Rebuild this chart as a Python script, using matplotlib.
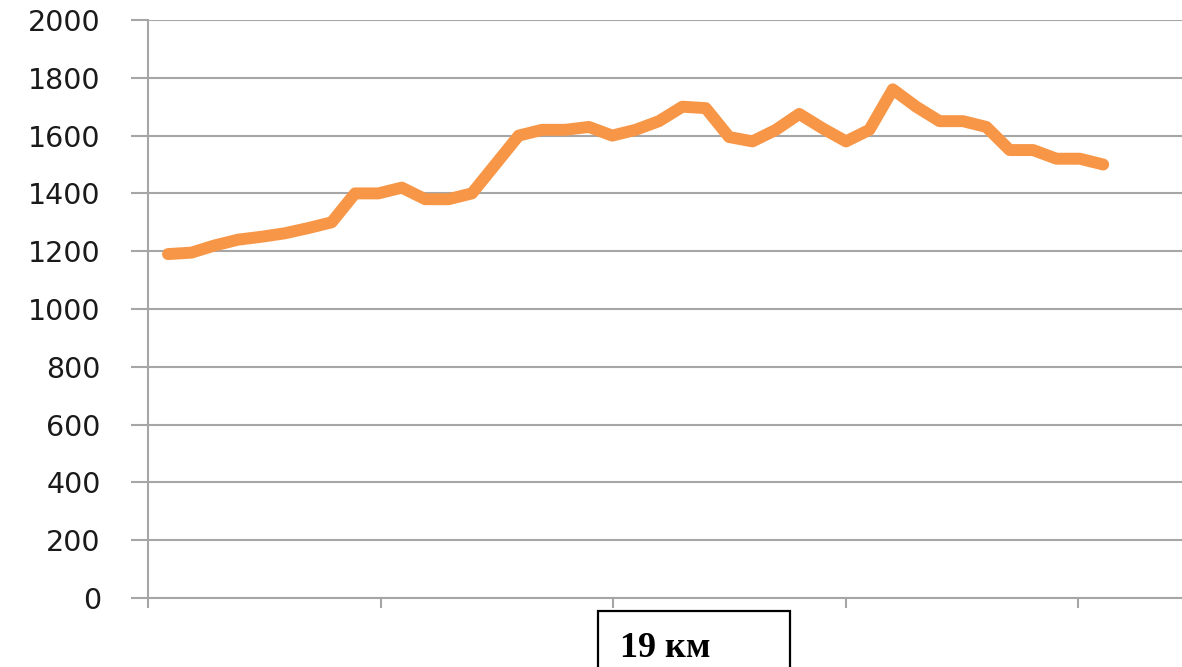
import matplotlib
matplotlib.use("Agg")
import matplotlib.pyplot as plt
from matplotlib.patches import Rectangle

# Data (elevation profile, 41 samples)
values = [1190, 1195, 1220, 1240, 1250, 1262, 1280, 1300, 1400, 1400,
          1420, 1380, 1380, 1400, 1500, 1600, 1620, 1620, 1630, 1600,
          1620, 1650, 1700, 1695, 1595, 1580, 1620, 1675, 1625, 1580,
          1620, 1760, 1700, 1650, 1650, 1630, 1550, 1550, 1520, 1520,
          1500]
y_ticks = [0, 200, 400, 600, 800, 1000, 1200, 1400, 1600, 1800, 2000]
y_tick_labels = [str(v) for v in y_ticks]
box_label = "19 км"

W, H = 1182, 667
fig = plt.figure(figsize=(W / 100, H / 100), dpi=100)
fig.patch.set_facecolor("white")

# axes area in pixels: left 148, right 1182, y=0 at 598, y=2000 at 20
ax = fig.add_axes([148 / W, (H - 598) / H, (W - 148) / W, (598 - 20) / H])

x = list(range(len(values)))
ax.plot(x, values, color="#F79646", linewidth=8.6,
        solid_joinstyle="round", solid_capstyle="round", zorder=3)

# x layout: first sample at pixel 168, spacing ~23.38 px; ticks every 232.5 px from 148
px0, step = 168.0, 23.38
ax.set_xlim((148 - px0) / step, (W - px0) / step)
ax.set_xticks([(148 + 232.5 * k - px0) / step for k in range(5)])
ax.set_xticklabels([])
ax.set_ylim(0, 2000)
ax.set_yticks(y_ticks)
ax.set_yticklabels(y_tick_labels)

grid_c = "#a6a6a6"
ax.yaxis.grid(True, color=grid_c, linewidth=1.5, zorder=0)
ax.xaxis.grid(False)
for side in ["top", "right"]:
    ax.spines[side].set_visible(False)
for side in ["left", "bottom"]:
    ax.spines[side].set_color(grid_c)
    ax.spines[side].set_linewidth(1.5)

ax.tick_params(axis="y", direction="out", length=12, width=1.5, color=grid_c,
               pad=22, labelsize=20.5, labelcolor="#1a1a1a")
ax.tick_params(axis="x", direction="out", length=7.5, width=1.5, color=grid_c)
for lbl in ax.get_yticklabels():
    lbl.set_fontfamily("DejaVu Sans")

# box with label under the axis
rect = Rectangle((598 / W, -0.05), 192 / W, (H - 611) / H + 0.05,
                 transform=fig.transFigure, fill=False, edgecolor="black",
                 linewidth=1.6, clip_on=False)
fig.patches.append(rect)
fig.text(620 / W, (H - 657) / H, box_label, fontfamily="Liberation Serif",
         fontweight="bold", fontsize=26, color="black", va="baseline", ha="left")

fig.savefig("out.png", dpi=100, facecolor="white")
